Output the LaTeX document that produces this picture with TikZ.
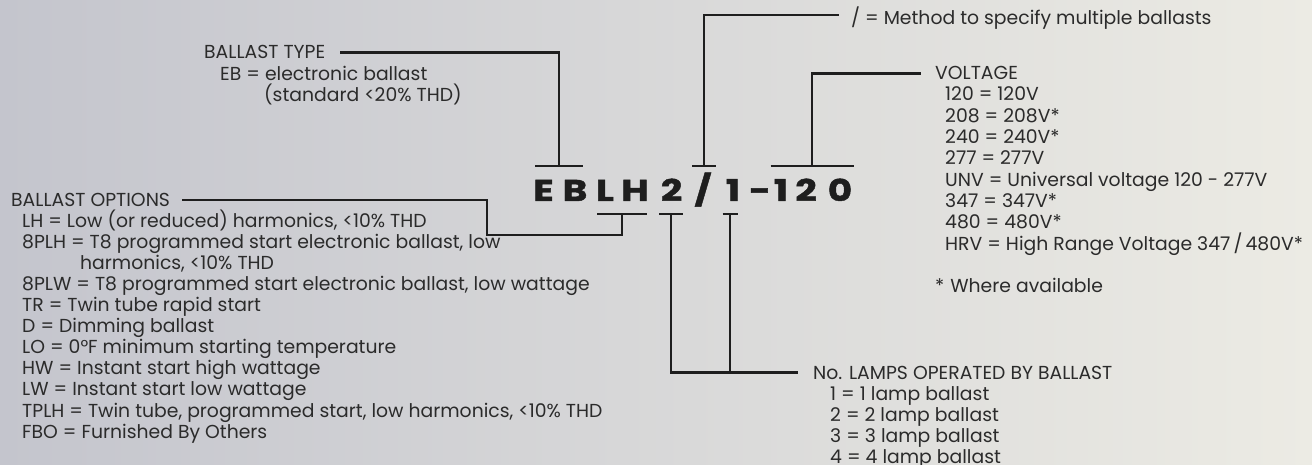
\documentclass[tikz,border=0pt]{standalone}
\usepackage{fontspec}
\setmainfont{Poppins}
\usetikzlibrary{positioning}
\definecolor{leadblack}{HTML}{1E1E1E}
\definecolor{inkgray}{HTML}{2B2B2B}
\definecolor{bgleft}{HTML}{C4C5CD}
\definecolor{bgright}{HTML}{ECEBE4}

\begin{document}
\begin{tikzpicture}[x=1pt, y=-1pt,
  every node/.style={font=\fontsize{18.8}{21}\selectfont, text=inkgray, inner sep=0pt},
  head/.style={anchor=base west, text height=13pt, text depth=0pt},
  item/.style={anchor=base west},
  letter/.style={anchor=base, text=leadblack, font=\fontsize{30}{30}\selectfont\bfseries\addfontfeature{FakeBold=1.5,FakeStretch=1.25}},
  lead/.style={draw=leadblack, line width=2.3pt}
]
\fill[left color=bgleft, right color=bgright] (0,0) rectangle (1312,465);
\useasboundingbox (0,0) rectangle (1312,465);

% the catalogue code, one letter at a time
\foreach \c/\x [count=\i] in {E/543.5, B/575, L/605, H/635, 2/671.5, {\slash}/703,
    1/733, {-}/760, 1/781, 2/806, 0/840}
  \node[letter] (code\i) at (\x,201) {\c};

% tick points above and below the code
\coordinate (tkEB) at (559,166);
\coordinate (tkSlash) at (704,166);
\coordinate (tkVolt) at (812,166);
\coordinate (tkLH) at (622,214);
\coordinate (tkTwo) at (671,214);
\coordinate (tkOne) at (730,214);
\coordinate (jog) at (487,235);
\foreach \p/\w in {tkEB/24, tkSlash/12, tkVolt/41.5, tkLH/25, tkTwo/12, tkOne/7.5}
  \draw[lead] ([xshift=-\w pt]\p) -- ([xshift=\w pt]\p);

% ballast type
\node[head] (typeHead) at (204,59) {BALLAST TYPE};
\node[item] (typeEB) at (220,81) {EB = electronic ballast};
\node[item] (typeStd) at (264,102) {(standard <20\% THD)};
\draw[lead] ([xshift=15pt]typeHead.east) -| (tkEB);

% multiple ballasts
\node[head] (method) at (851,25) {/ = Method to specify multiple ballasts};
\draw[lead] (tkSlash) |- ([xshift=-12pt,yshift=3.5pt]method.west);

% voltage
\node[head] (voltHead) at (935,80) {VOLTAGE};
\foreach \t [count=\i] in {120 = 120V, 208 = 208V*, 240 = 240V*, 277 = 277V,
    UNV = Universal voltage 120 - 277V, 347 = 347V*, 480 = 480V*,
    HRV = High Range Voltage 347\,/\,480V*}
  \node[item] (volt\i) at (945,79.7+21.3*\i) {\t};
\node[item] (voltNote) at (935,292.7) {*\hspace{6pt}Where available};
\draw[lead] (tkVolt) |- ([xshift=-14pt]voltHead.west);

% ballast options
\node[head] (optHead) at (11,206.5) {BALLAST OPTIONS};
\foreach \t [count=\i] in {{LH = Low (or reduced) harmonics, <10\% THD},
    {8PLH = T8 programmed start electronic ballast, low},
    {\hspace*{58pt}harmonics, <10\% THD},
    {8PLW = T8 programmed start electronic ballast, low wattage},
    TR = Twin tube rapid start, D = Dimming ballast,
    LO = 0°F minimum starting temperature,
    HW = Instant start high wattage, LW = Instant start low wattage,
    {TPLH = Twin tube, programmed start, low harmonics, <10\% THD},
    FBO = Furnished By Others}
  \node[item] (opt\i) at (22,206.5+21.05*\i) {\t};
\draw[lead] ([xshift=12pt]optHead.east) -| (jog) -| (tkLH);

% lamps per ballast
\node[head] (lampHead) at (813,379) {No. LAMPS OPERATED BY BALLAST};
\foreach \n in {1,...,4}
  \node[item] (lamp\n) at (830,379+21*\n) {\n\ = \n\ lamp ballast};
\draw[lead] (tkTwo) |- ([xshift=-15pt]lampHead.west);
\draw[lead] (tkOne) -- (tkOne |- lampHead.west);
\end{tikzpicture}
\end{document}
